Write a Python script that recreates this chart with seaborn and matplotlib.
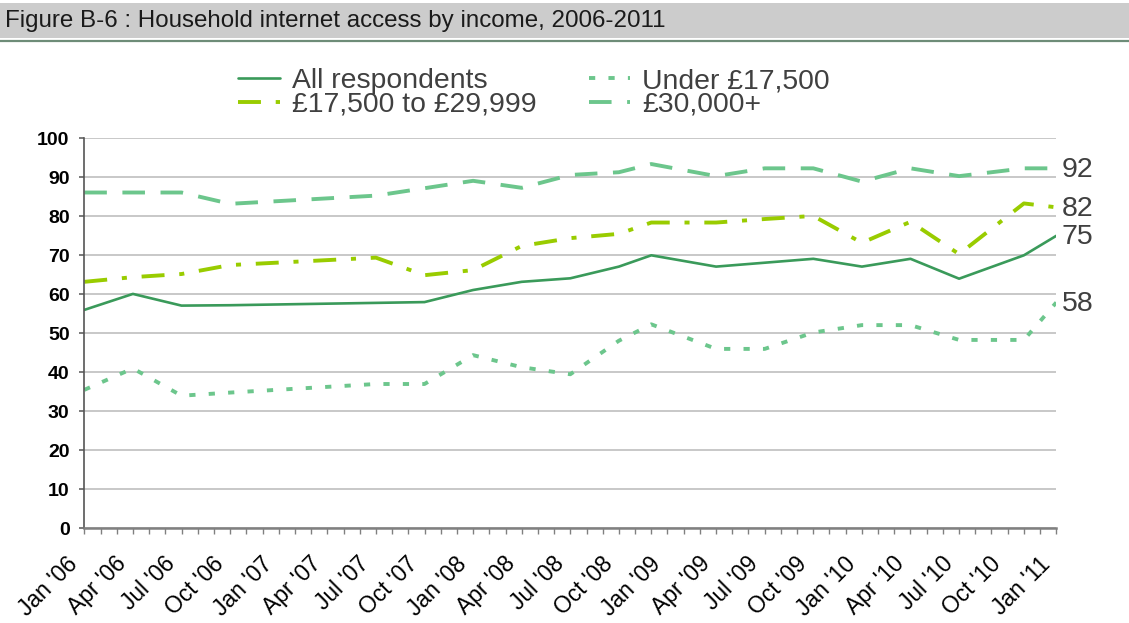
import matplotlib.pyplot as plt
import seaborn as sns
import pandas as pd
from matplotlib.patches import Rectangle
from matplotlib.lines import Line2D

# survey months, counted from Jan 2006 (0) to Jan 2011 (60)
months = [0, 3, 6, 9, 18, 21, 24, 27, 30, 33, 35, 39, 42, 45, 48, 51, 54, 58, 60]

all_resp = [56.0, 60.1, 57.1, 57.2, 57.8, 58.0, 61.1, 63.2, 64.1, 67.1,
            70.0, 67.1, 68.1, 69.1, 67.1, 69.1, 64.0, 70.0, 75.0]
under_17k = [35.5, 41.0, 34.0, 34.8, 37.0, 37.0, 44.4, 41.3, 39.5, 48.1,
             52.3, 46.0, 46.0, 50.2, 52.1, 52.1, 48.3, 48.3, 57.9]
mid_17k_30k = [63.2, 64.4, 65.2, 67.5, 69.4, 64.9, 66.2, 72.4, 74.4, 75.5,
               78.4, 78.4, 79.3, 80.1, 73.2, 78.6, 70.3, 83.3, 82.3]
over_30k = [86.1, 86.1, 86.1, 83.2, 85.3, 87.2, 89.1, 87.3, 90.6, 91.3,
            93.4, 90.3, 92.3, 92.3, 88.9, 92.3, 90.3, 92.3, 92.3]

tick_labels = ["Jan '06", "Apr '06", "Jul '06", "Oct '06",
               "Jan '07", "Apr '07", "Jul '07", "Oct '07",
               "Jan '08", "Apr '08", "Jul '08", "Oct '08",
               "Jan '09", "Apr '09", "Jul '09", "Oct '09",
               "Jan '10", "Apr '10", "Jul '10", "Oct '10",
               "Jan '11"]

df = pd.DataFrame({"month": months,
                   "All respondents": all_resp,
                   "Under £17,500": under_17k,
                   "£17,500 to £29,999": mid_17k_30k,
                   "£30,000+": over_30k})

sns.set_theme(style="white")
plt.rcParams['font.family'] = ['Liberation Sans', 'DejaVu Sans']

light_green = "#6CC68C"
dark_green = "#3A9A5A"
lime = "#99CC00"

W, H = 1129, 623
fig = plt.figure(figsize=(W / 100, H / 100), dpi=100)
ax = fig.add_axes([84.3 / W, 1 - 528.3 / H, 972 / W, 390 / H])

# title band
fig.patches.append(Rectangle((0, 1 - 38 / H), 1, 35 / H, transform=fig.transFigure,
                             facecolor="#CCCCCC", edgecolor="none", zorder=0))
fig.lines.append(Line2D([0, 1], [1 - 40.5 / H] * 2, transform=fig.transFigure,
                        color="#6E8C78", lw=1.6))
fig.text(5 / W, 1 - 21 / H, "Figure B-6 : Household internet access by income, 2006-2011",
         fontsize=17.4, va="center", ha="left", color="#1a1a1a")

series = [
    ("All respondents", dark_green, 1.9, "-"),
    ("£17,500 to £29,999", lime, 2.8, (0, (5.9, 3.8, 1.3, 3.8))),
    ("Under £17,500", light_green, 2.8, (0, (1.6, 3.4))),
    ("£30,000+", light_green, 2.8, (0, (5.8, 4.0))),
]
handles = []
for name, col, lw, ls in series:
    sns.lineplot(data=df, x="month", y=name, ax=ax, color=col, linewidth=lw,
                 linestyle=ls, label=name, legend=False)
    handles.append(ax.get_lines()[-1])
    last = df[name].iloc[-1]
    ax.annotate(f"{last:.0f}", xy=(df["month"].iloc[-1], last), xytext=(4, -1),
                textcoords="offset points", va="center", ha="left",
                fontsize=20.5, color="#404040")

ax.set_xlim(0, 60)
ax.set_ylim(0, 100)
ax.set_yticks(range(0, 101, 10))
ax.set_xticks(range(0, 61))
# trailing spaces push the rotated labels down-left of their ticks, as in the original
ax.set_xticklabels([tick_labels[m // 3] + "    " if m % 3 == 0 else "" for m in range(61)],
                   rotation=45, ha="right", rotation_mode="anchor")
for lab in ax.get_yticklabels():
    lab.set_fontweight("bold")
ax.set_xlabel("")
ax.set_ylabel("")

ax.yaxis.grid(True, color="#C8C8C8", lw=1.4)
ax.xaxis.grid(False)
ax.set_axisbelow(True)
for s in ["top", "right"]:
    ax.spines[s].set_visible(False)
ax.spines["left"].set_color("#555555")
ax.spines["left"].set_linewidth(1.2)
ax.spines["bottom"].set_color("#808080")
ax.spines["bottom"].set_linewidth(1.8)
ax.tick_params(axis="y", length=3.6, width=1.1, color="#555555", direction="out",
               left=True, pad=7, labelsize=14, labelcolor="black")
ax.tick_params(axis="x", length=4.3, width=1.0, color="#808080", direction="out",
               bottom=True, pad=0, labelsize=16.5, labelcolor="black")

ax.legend(handles=handles, labels=[s[0] for s in series], ncol=2, frameon=False,
          loc="upper left", bbox_to_anchor=(238 / W, 1 - 68 / H),
          bbox_transform=fig.transFigure, borderpad=0, borderaxespad=0,
          fontsize=20.4, handlelength=1.47, handletextpad=0.42,
          columnspacing=1.85, labelspacing=-0.08, labelcolor="#404040")

fig.savefig("out.png", dpi=100)
